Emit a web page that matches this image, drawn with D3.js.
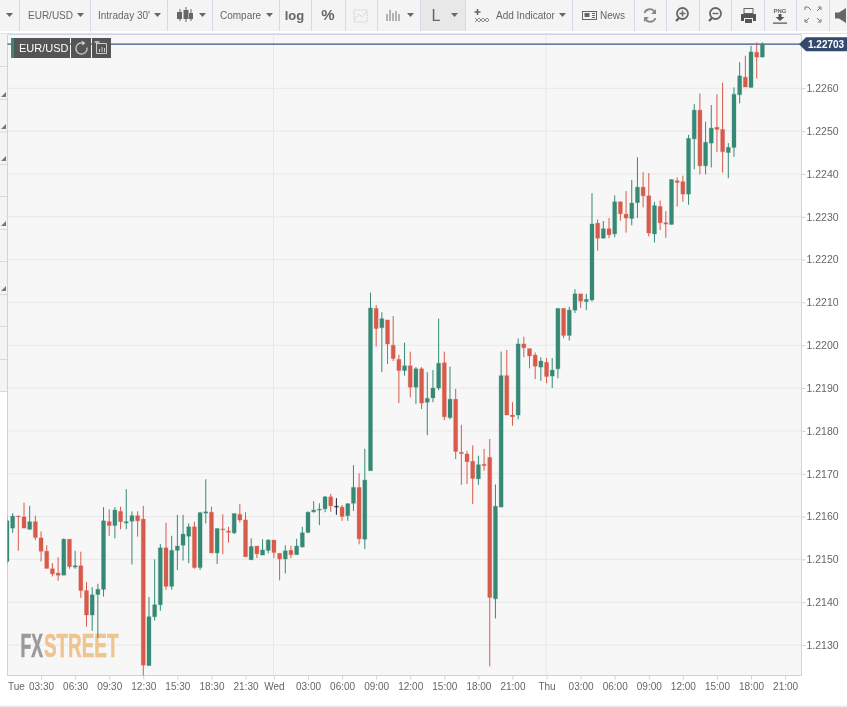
<!DOCTYPE html>
<html><head><meta charset="utf-8">
<script src="https://cdn.jsdelivr.net/npm/d3@7/dist/d3.min.js"></script>
<style>
html,body{margin:0;padding:0;background:#fff;overflow:hidden}
svg{display:block;filter:blur(0.3px)}
text{font-family:"Liberation Sans",Arial,sans-serif}
</style></head><body>
<script>
// half-hour bars counted from Tuesday 00:00
const firstBar = 1;
const opens = [1.21495,1.21573,1.21601,1.21599,1.21570,1.21588,1.21550,1.21519,1.21478,1.21468,
1.21463,1.21547,1.21482,1.21485,1.21427,1.21370,1.21418,1.21430,1.21588,1.21579,
1.21612,1.21585,1.21589,1.21602,1.21594,1.21252,1.21366,1.21394,1.21527,1.21437,
1.21521,1.21533,1.21554,1.21576,1.21481,1.21608,1.21610,1.21515,1.21571,1.21566,
1.21562,1.21605,1.21592,1.21499,1.21531,1.21510,1.21521,1.21545,1.21514,1.21501,
1.21521,1.21511,1.21529,1.21563,1.21611,1.21615,1.21618,1.21646,1.21624,1.21622,
1.21602,1.21631,1.21668,1.21547,1.21707,1.22086,1.22041,1.22059,1.22000,1.21967,
1.21941,1.21952,1.21902,1.21945,1.21867,1.21877,1.21900,1.21959,1.21831,1.21874,
1.21750,1.21746,1.21729,1.21688,1.21722,1.21738,1.21408,1.21622,1.21929,1.21837,
1.21837,1.22003,1.21992,1.21977,1.21949,1.21960,1.21928,1.21945,1.22086,1.22023,
1.22082,1.22120,1.22102,1.22106,1.22285,1.22250,1.22272,1.22260,1.22335,1.22306,
1.22296,1.22333,1.22369,1.22349,1.22260,1.22324,1.22286,1.22282,1.22384,1.22382,
1.22353,1.22482,1.22549,1.22419,1.22472,1.22509,1.22504,1.22450,1.22462,1.22585,
1.22626,1.22602,1.22684,1.22673];
const closes = [1.21590,1.21601,1.21600,1.21573,1.21588,1.21551,1.21519,1.21479,1.21466,1.21463,
1.21547,1.21483,1.21485,1.21427,1.21370,1.21417,1.21430,1.21590,1.21579,1.21615,
1.21588,1.21588,1.21602,1.21590,1.21253,1.21366,1.21394,1.21527,1.21437,1.21521,
1.21531,1.21559,1.21576,1.21481,1.21609,1.21611,1.21515,1.21572,1.21569,1.21563,
1.21607,1.21592,1.21506,1.21530,1.21513,1.21522,1.21545,1.21516,1.21501,1.21520,
1.21511,1.21531,1.21562,1.21610,1.21615,1.21617,1.21646,1.21625,1.21624,1.21600,
1.21630,1.21668,1.21548,1.21685,1.22087,1.22039,1.22062,1.22003,1.21969,1.21941,
1.21952,1.21902,1.21945,1.21865,1.21876,1.21900,1.21958,1.21833,1.21874,1.21752,
1.21747,1.21728,1.21689,1.21721,1.21719,1.21411,1.21624,1.21929,1.21837,1.21833,
1.22003,1.21994,1.21975,1.21951,1.21963,1.21927,1.21942,1.22086,1.22023,1.22082,
1.22120,1.22103,1.22107,1.22283,1.22250,1.22272,1.22258,1.22335,1.22307,1.22297,
1.22332,1.22369,1.22349,1.22262,1.22326,1.22286,1.22283,1.22387,1.22380,1.22353,
1.22483,1.22549,1.22419,1.22474,1.22507,1.22504,1.22452,1.22462,1.22586,1.22629,
1.22603,1.22685,1.22673,1.22703];
const highs = [1.21601,1.21608,1.21602,1.21632,1.21625,1.21602,1.21565,1.21533,1.21491,1.21505,
1.21549,1.21547,1.21520,1.21518,1.21447,1.21435,1.21443,1.21622,1.21617,1.21622,
1.21623,1.21664,1.21612,1.21612,1.21625,1.21412,1.21500,1.21536,1.21586,1.21555,
1.21604,1.21604,1.21584,1.21588,1.21611,1.21687,1.21623,1.21572,1.21605,1.21576,
1.21607,1.21629,1.21610,1.21549,1.21531,1.21547,1.21547,1.21545,1.21514,1.21533,
1.21532,1.21548,1.21576,1.21612,1.21636,1.21631,1.21648,1.21653,1.21643,1.21627,
1.21631,1.21720,1.21701,1.21758,1.22123,1.22094,1.22077,1.22059,1.22068,1.21978,
1.22006,1.21985,1.21949,1.21949,1.21937,1.21942,1.22062,1.21985,1.21950,1.21898,
1.21814,1.21753,1.21766,1.21742,1.21758,1.21781,1.21675,1.21985,1.21989,1.21867,
1.22016,1.22020,1.21992,1.21983,1.21972,1.21970,1.21970,1.22086,1.22086,1.22090,
1.22131,1.22120,1.22120,1.22355,1.22294,1.22290,1.22297,1.22350,1.22335,1.22360,
1.22386,1.22439,1.22404,1.22402,1.22335,1.22338,1.22313,1.22387,1.22392,1.22396,
1.22491,1.22563,1.22588,1.22522,1.22561,1.22586,1.22613,1.22472,1.22602,1.22661,
1.22676,1.22699,1.22707,1.22707];
const lows = [1.21487,1.21562,1.21520,1.21573,1.21570,1.21545,1.21495,1.21478,1.21460,1.21450,
1.21463,1.21478,1.21478,1.21410,1.21343,1.21333,1.21316,1.21413,1.21555,1.21549,
1.21570,1.21570,1.21488,1.21553,1.21226,1.21252,1.21357,1.21380,1.21429,1.21429,
1.21475,1.21497,1.21491,1.21478,1.21475,1.21584,1.21515,1.21489,1.21512,1.21539,
1.21559,1.21586,1.21506,1.21499,1.21503,1.21510,1.21514,1.21503,1.21451,1.21467,
1.21503,1.21511,1.21527,1.21561,1.21609,1.21580,1.21610,1.21611,1.21604,1.21590,
1.21590,1.21613,1.21535,1.21524,1.21707,1.21997,1.21937,1.21956,1.21963,1.21865,
1.21929,1.21878,1.21863,1.21851,1.21790,1.21867,1.21895,1.21825,1.21827,1.21734,
1.21674,1.21676,1.21629,1.21674,1.21707,1.21250,1.21362,1.21622,1.21837,1.21812,
1.21827,1.21972,1.21946,1.21921,1.21917,1.21911,1.21900,1.21923,1.22016,1.22011,
1.22075,1.22087,1.22082,1.22102,1.22221,1.22249,1.22250,1.22252,1.22291,1.22263,
1.22280,1.22297,1.22322,1.22254,1.22240,1.22269,1.22251,1.22282,1.22324,1.22335,
1.22328,1.22411,1.22399,1.22399,1.22415,1.22451,1.22403,1.22390,1.22440,1.22565,
1.22603,1.22602,1.22623,1.22672];
const yTicks = [1.2130,1.2140,1.2150,1.2160,1.2170,1.2180,1.2190,1.2200,1.2210,1.2220,1.2230,1.2240,1.2250,1.2260];
const xTickBars = [0,7,13,19,25,31,37,43,48,54,60,66,72,78,84,90,96,102,108,114,120,126,132,138];
const xTickLabels = ["Tue","03:30","06:30","09:30","12:30","15:30","18:30","21:30","Wed","03:00","06:00","09:00","12:00","15:00","18:00","21:00","Thu","03:00","06:00","09:00","12:00","15:00","18:00","21:00"];
const dayBars = [48,96];
const lastPrice = 1.22703;
const symbol = "EUR/USD";

const W=847,H=707, plotL=7.5, plotR=801.5, plotT=34.5, plotB=675.5;
const x=d3.scaleLinear().domain([0,138]).range([1.3,785.1]);
const y=d3.scaleLinear().domain([1.2130,1.2260]).range([645,88.3]);
const UP="#358975",DOWN="#d75a4a",FLAT="#1b2230",BORDER="#ccd3e6",GRID="#e8e8e8",TXT="#666";

const svg=d3.select("body").append("svg").attr("width",W).attr("height",H);
svg.append("rect").attr("width",W).attr("height",H).attr("fill","#fff");

// ---- plot background
svg.append("rect").attr("x",plotL).attr("y",plotT).attr("width",plotR-plotL).attr("height",plotB-plotT).attr("fill","#f7f7f7");
const defs=svg.append("defs");
defs.append("clipPath").attr("id","plotClip").append("rect").attr("x",plotL).attr("y",plotT).attr("width",plotR-plotL).attr("height",plotB-plotT);

// ---- grid
const gridG=svg.append("g");
gridG.selectAll("line.h").data(yTicks).join("line").attr("class","h")
 .attr("x1",plotL).attr("x2",plotR).attr("y1",d=>y(d)).attr("y2",d=>y(d)).attr("stroke",GRID);
gridG.selectAll("line.v").data(dayBars).join("line").attr("class","v")
 .attr("x1",d=>x(d)-.4).attr("x2",d=>x(d)-.4).attr("y1",plotT).attr("y2",plotB).attr("stroke",GRID);

// ---- watermark: two words, each squeezed horizontally to its measured width
const wmWord=(t,left,width,c)=>{
  const n=svg.append("text").attr("font-size",33).attr("fill",c).attr("stroke",c).attr("stroke-width",.7)
    .style("font-family","'Liberation Sans',sans-serif").style("font-weight","700").text(t);
  const sx=width/n.node().getComputedTextLength();
  n.attr("transform",`translate(${left},657) scale(${sx},1)`);
};
wmWord("FX",20.5,22.5,"#9a9a9a");
wmWord("STREET",44,74.5,"#efc48f");

// ---- axes
const yAxis=d3.axisRight(y).tickValues(yTicks).tickFormat(d3.format(".4f")).tickSize(4).tickPadding(1);
const gy=svg.append("g").attr("transform",`translate(${plotR},0)`).call(yAxis);
gy.select(".domain").remove();
gy.selectAll("line").attr("stroke",BORDER);
gy.selectAll("text").attr("fill",TXT).attr("font-size",10.5).style("font-family","'Liberation Sans',sans-serif");
const xAxis=d3.axisBottom(x).tickValues(xTickBars).tickFormat((d,i)=>xTickLabels[i]).tickSize(4).tickPadding(3.5);
const gx=svg.append("g").attr("transform",`translate(0,${plotB})`).call(xAxis);
gx.select(".domain").remove();
gx.selectAll(".tick line").attr("stroke",BORDER).attr("opacity",(d,i)=>i===0?0:1);
gx.selectAll(".tick text").attr("fill",TXT).attr("font-size",10).style("font-family","'Liberation Sans',sans-serif")
  .attr("text-anchor",(d,i)=>i===0?"start":"middle").attr("dx",(d,i)=>i===0?6.2:0);

// ---- frame
svg.append("path").attr("d",`M${plotL},${plotB}V${plotT}H${plotR}V${plotB}Z`).attr("fill","none").attr("stroke",BORDER);

// ---- last price line
svg.append("line").attr("x1",plotL).attr("x2",plotR).attr("y1",y(lastPrice)).attr("y2",y(lastPrice)).attr("stroke","#3d5480").attr("stroke-width",1.2);

// ---- candles
const candles=opens.map((o,i)=>({bar:firstBar+i,o,c:closes[i],h:highs[i],l:lows[i]}));
const col=d=>d.c>d.o?UP:d.c<d.o?DOWN:FLAT;
const cg=svg.append("g").attr("clip-path","url(#plotClip)");
cg.selectAll("line.wick").data(candles).join("line").attr("class","wick")
 .attr("x1",d=>x(d.bar)).attr("x2",d=>x(d.bar)).attr("y1",d=>y(d.h)).attr("y2",d=>y(d.l)).attr("stroke",col).attr("stroke-width",1);
const bw=4;
cg.selectAll("rect.body").data(candles).join("rect").attr("class","body")
 .attr("x",d=>x(d.bar)-bw/2).attr("width",bw)
 .attr("y",d=>y(Math.max(d.o,d.c))).attr("height",d=>Math.max(.8,Math.abs(y(d.o)-y(d.c))))
 .attr("fill",col).attr("stroke",col).attr("stroke-opacity",.28).attr("stroke-width",1);

// ---- symbol flag
svg.append("rect").attr("x",11).attr("y",38).attr("width",59).attr("height",20).attr("fill","#555");
svg.append("rect").attr("x",11).attr("y",38).attr("width",3).attr("height",20).attr("fill",UP);
svg.append("text").attr("x",19).attr("y",52).attr("fill","#fff").attr("font-size",11).text(symbol);
svg.append("rect").attr("x",71).attr("y",38).attr("width",20).attr("height",20).attr("fill","#555");
svg.append("rect").attr("x",92).attr("y",38).attr("width",19).attr("height",20).attr("fill","#555");
svg.append("path").attr("d","M87,47.5a5.6,5.6 0 1 1 -3,-4").attr("fill","none").attr("stroke","#ccc").attr("stroke-width",1.3);
svg.append("path").attr("d","M81.5,40.5l4,2.5l-3,2.5z").attr("fill","#ccc");
svg.append("path").attr("d","M97,43.5H106.5V53.5H96.5V42M99.5,52V49M102,52V47M104.5,52V48").attr("fill","none").attr("stroke","#ccc").attr("stroke-width",1);
svg.append("path").attr("d","M94.5,42h5").attr("stroke","#ccc").attr("stroke-width",1.5);

// ---- last price label
svg.append("path").attr("d",`M799,${y(lastPrice)}L806,${y(lastPrice)-7}H847V${y(lastPrice)+7}H806Z`).attr("fill","#34496e");
svg.append("text").attr("x",808).attr("y",y(lastPrice)+3.5).attr("fill","#fff").attr("font-size",10).attr("font-weight",700).text(lastPrice.toFixed(5));

// ---- toolbar
const tb=svg.append("g");
tb.append("rect").attr("width",W).attr("height",31).attr("fill","#f4f4f4");
tb.append("rect").attr("x",420).attr("width",45).attr("height",31).attr("fill","#e8e8e8");
const seps=[19.5,90.5,167.5,212.5,279.5,311.5,345.5,377.5,420.5,465.5,572.5,634.5,666.5,699.5,731.5,764.5,796.5,829.5];
tb.selectAll("line").data(seps).join("line").attr("x1",d=>d).attr("x2",d=>d).attr("y1",0).attr("y2",31).attr("stroke","#d3daeb");
const caretXs=[9.5,80.5,157.5,202.5,269.5,410.5,454.5,562.5];
tb.selectAll("path.caret").data(caretXs).join("path").attr("class","caret").attr("d",d=>`M${d-3.5},13L${d+3.5},13L${d},17Z`).attr("fill","#666");
const label=(t,x,s,b,a)=>tb.append("text").attr("x",x).attr("y",b&&s>12?20:18.5).attr("font-size",s).attr("font-weight",b?700:400).attr("text-anchor",a||"start").attr("fill",TXT).text(t);
label(symbol,28,10);
label("Intraday 30'",98,10);
label("Compare",220,10);
label("log",294.5,13,true,"middle");
label("%",328,15,true,"middle");
label("L",436,16,false,"middle").attr("y",21);
label("Add Indicator",496,10);
label("News",600,10);
const ico=tb.append("g").attr("fill","none").attr("stroke","#666").attr("stroke-width",1);
// candle icon
ico.append("path").attr("d","M180,9V21M186,7V22M191,9V21");
tb.append("path").attr("fill","#666").attr("d","M177,12h5v7h-5zM183.5,10h5v9h-5zM189,13h4v6h-4z");
// chart-zoom icon (pale)
ico.append("path").attr("stroke","#ccc").attr("stroke-dasharray","1.5 1").attr("d","M354,10H367V22H354ZM355,19L359,14L362,17L367,11");
// bars icon
ico.append("path").attr("d","M387,14V21M390,10V21M393,13V21M396,11V21M399,14V21").attr("stroke-width",1.2).attr("stroke","#888");
// indicator icon
ico.append("path").attr("d","M475,18L479,22L483,18L487,22L489,20M475,22L479,18L483,22L487,18L489,20").attr("stroke","#888");
ico.append("path").attr("d","M477.5,9V15M474.5,12H480.5").attr("stroke-width",1.6);
// news icon
ico.append("rect").attr("x",582.5).attr("y",11.5).attr("width",14).attr("height",8);
ico.append("path").attr("d","M592,13.5H595M592,15.5H595M592,17.5H595");
tb.append("rect").attr("x",584.5).attr("y",13).attr("width",5).attr("height",4).attr("fill","#666");
// refresh
ico.append("path").attr("stroke-width",1.8).attr("stroke","#888").attr("d","M644.5,13a5.5,5.5 0 0 1 10,-1M655.5,18a5.5,5.5 0 0 1 -10,1");
tb.append("path").attr("fill","#888").attr("d","M656,9v5h-5zM644,22v-5h5z");
// magnifiers
[[682,true],[715,false]].forEach(([cx,plus])=>{
 ico.append("circle").attr("cx",cx+.5).attr("cy",13.5).attr("r",5.5).attr("stroke-width",1.8);
 ico.append("path").attr("stroke-width",2.4).attr("d",`M${cx-3},18L${cx-6},21`);
 ico.append("path").attr("d",plus?`M${cx-2.5},13.5H${cx+3.5}M${cx+.5},10.5V16.5`:`M${cx-2.5},13.5H${cx+3.5}`).attr("stroke-width",1.4);
});
// print
tb.append("path").attr("fill","#555").attr("d","M741,14H756V21H753V18H744V21H741ZM745,19H752V23H745Z");
ico.append("rect").attr("x",744).attr("y",8.5).attr("width",9).attr("height",5).attr("stroke-width",1);
// png
tb.append("text").attr("x",780).attr("y",12.5).attr("font-size",6).attr("font-weight",700).attr("text-anchor","middle").attr("fill",TXT).text("PNG");
tb.append("path").attr("fill","#555").attr("d","M778.5,14h3v3h3l-4.5,4l-4.5,-4h3z M773,22.5h14v1.2h-14z");
// fullscreen
ico.append("path").attr("d","M805,7V10M805,7H808L811,10M821,7V10M821,7H818M820,8L817,11M805,22V19M805,22H808M806,21L809,18M821,22V19M821,22H818M820,21L817,18").attr("stroke","#777");
// speaker
tb.append("path").attr("fill","#666").attr("d","M835,12.5H839L846,8V23L839,18.5H835Z");

// ---- side toolbar strip
const sideSeps=[66,99,131.5,164,196,229,261,294,326,359,391];
svg.append("rect").attr("x",0).attr("y",34).attr("width",7).attr("height",357).attr("fill","#f4f4f4");
svg.selectAll("line.side").data(sideSeps).join("line").attr("class","side").attr("x1",0).attr("x2",7).attr("y1",d=>d+.5).attr("y2",d=>d+.5).attr("stroke","#d3daeb");
const sideTri=[95,127,159,224,289];
svg.selectAll("path.tri").data(sideTri).join("path").attr("class","tri").attr("d",d=>`M1,${d+2}L6,${d+2}L6,${d-3}Z`).attr("fill","#777");
// ---- bottom rule
svg.append("rect").attr("x",0).attr("y",705.5).attr("width",W).attr("height",1.5).attr("fill","#eeeeee");
svg.append("line").attr("x1",0).attr("x2",W).attr("y1",33.5).attr("y2",33.5).attr("stroke","#dfe4f1");
</script>
</body></html>
